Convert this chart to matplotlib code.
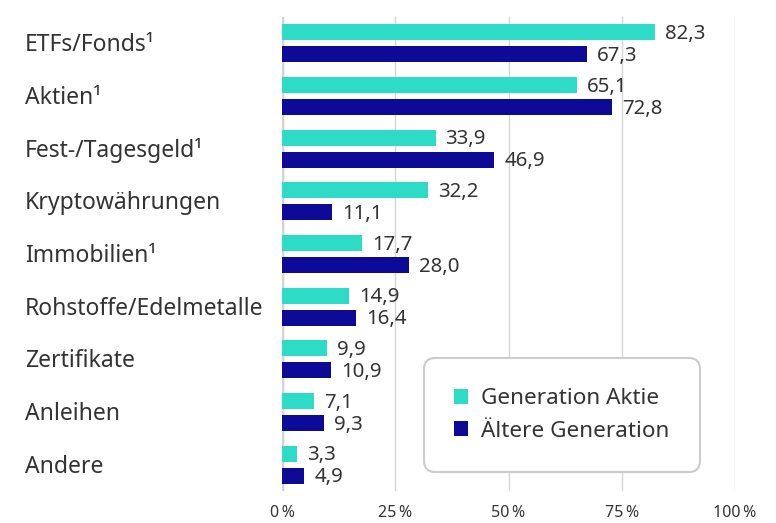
import numpy as np
import matplotlib.pyplot as plt

plt.rcParams['font.family'] = ['Noto Sans', 'DejaVu Sans']

categories = ['ETFs/Fonds¹', 'Aktien¹', 'Fest-/Tagesgeld¹', 'Kryptowährungen',
              'Immobilien¹', 'Rohstoffe/Edelmetalle', 'Zertifikate', 'Anleihen', 'Andere']
gen_aktie = [82.3, 65.1, 33.9, 32.2, 17.7, 14.9, 9.9, 7.1, 3.3]
aeltere = [67.3, 72.8, 46.9, 11.1, 28.0, 16.4, 10.9, 9.3, 4.9]
ticks = [0, 25, 50, 75, 100]

teal = '#2EDBC6'
navy = '#0C0A96'
txt = '#333333'

fig = plt.figure(figsize=(7.76, 5.23), dpi=100)
ax = fig.add_axes([282 / 776, 1 - 491 / 523, (735 - 282) / 776, (491 - 17) / 523])

y = np.arange(len(categories))
h = 0.30
off = 0.21
ax.barh(y - off, gen_aktie, height=h, color=teal, label='Generation Aktie', zorder=3)
ax.barh(y + off, aeltere, height=h, color=navy, label='Ältere Generation', zorder=3)

for yi, v in zip(y, gen_aktie):
    ax.text(v + 2.2, yi - off + 0.03, f'{v:.1f}'.replace('.', ','), va='center', ha='left',
            fontsize=14.7, color=txt)
for yi, v in zip(y, aeltere):
    ax.text(v + 2.2, yi + off + 0.03, f'{v:.1f}'.replace('.', ','), va='center', ha='left',
            fontsize=14.7, color=txt)

ax.set_xlim(0, 100)
ax.set_ylim(len(categories) - 0.5, -0.5)
ax.set_xticks(ticks)
ax.set_xticklabels([f'{t}\u2009%' for t in ticks], fontsize=11.5, color=txt)
ax.set_yticks(y)
ax.set_yticklabels([])
for yi, c in zip(y, categories):
    ax.text(-257 / 4.53, yi + 0.04, c, ha='left', va='center', fontsize=16.5, color=txt)

ax.tick_params(axis='both', length=0)
ax.tick_params(axis='x', pad=10)
for s in ax.spines.values():
    s.set_visible(False)
ax.grid(axis='x', color='#d6d6d6', linewidth=1, zorder=0)
ax.axvline(0, color='#d0d0d0', linewidth=2.5, zorder=1)

leg = ax.legend(loc='lower left', bbox_to_anchor=(0.313, 0.04), fontsize=16.2,
                frameon=True, handlelength=0.62, handleheight=0.62, handletextpad=0.58,
                borderpad=1.35, borderaxespad=0, labelspacing=0.5, labelcolor=txt)
frame = leg.get_frame()
frame.set_edgecolor('#cccccc')
frame.set_linewidth(1.5)
frame.set_boxstyle('round,pad=0,rounding_size=0.5')
frame.set_facecolor('white')
frame.set_alpha(1)

fig.savefig('out.png', dpi=100)
